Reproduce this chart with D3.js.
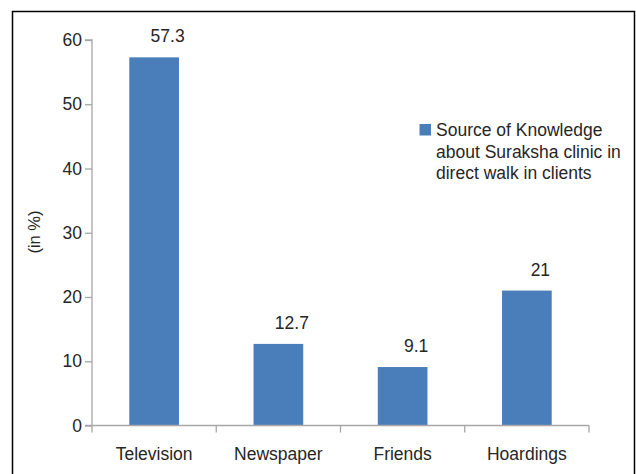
<!DOCTYPE html>
<html>
<head>
<meta charset="utf-8">
<script src="https://cdn.jsdelivr.net/npm/d3@7"></script>
<style>
html,body{margin:0;padding:0;background:#fff;}
svg{display:block;font-family:"Liberation Sans",Arial,sans-serif;}
</style>
</head>
<body>
<svg id="chart" width="636" height="474"></svg>
<script>
const categories = ["Television", "Newspaper", "Friends", "Hoardings"];
const values = [57.3, 12.7, 9.1, 21];
const valueLabels = ["57.3", "12.7", "9.1", "21"];
const yTicks = [0, 10, 20, 30, 40, 50, 60];
const seriesName = ["Source of Knowledge", "about Suraksha clinic in", "direct walk in clients"];
const yTitle = "(in %)";

(function () {
const svg = d3.select("#chart");
const mLeft = 92, mRight = 589, mTop = 40, mBottom = 425.5;
const barColor = "#4a7ebb";
const axisColor = "#a6a6a6";
const textColor = "#262626";
const fs = 17.5;

// outer frame
svg.append("rect").attr("x", 12.5).attr("y", 11.5).attr("width", 622).attr("height", 480)
  .attr("fill", "none").attr("stroke", "#000").attr("stroke-width", 1.5);

const x = d3.scaleBand().domain(categories).range([mLeft, mRight]).paddingInner(0.6).paddingOuter(0.3);
const y = d3.scaleLinear().domain([0, 60]).range([mBottom, mTop]);

// bars
svg.selectAll("rect.bar").data(values).join("rect").attr("class", "bar")
  .attr("x", (d, i) => x(categories[i]))
  .attr("y", d => y(d))
  .attr("width", x.bandwidth())
  .attr("height", d => y(0) - y(d))
  .attr("fill", barColor);

// value labels
svg.selectAll("text.val").data(values).join("text").attr("class", "val")
  .attr("x", (d, i) => x(categories[i]) + x.bandwidth() / 2 + 13.5)
  .attr("y", d => y(d) - 15)
  .attr("text-anchor", "middle")
  .attr("font-size", fs)
  .attr("fill", textColor)
  .text((d, i) => valueLabels[i]);

// y axis
const yAxis = d3.axisLeft(y).tickValues(yTicks).tickSize(7).tickPadding(3);
const gy = svg.append("g").attr("transform", `translate(${mLeft},0)`).call(yAxis);
gy.select(".domain").attr("stroke", axisColor).attr("stroke-width", 1.3).attr("d", `M-7,${mBottom}H0V${mTop}H-7`);
gy.selectAll(".tick line").attr("stroke", axisColor).attr("stroke-width", 1.3);
gy.selectAll(".tick text").attr("font-size", fs).attr("fill", textColor)
  .attr("font-family", "Liberation Sans, Arial, sans-serif");

// x axis
const xAxis = d3.axisBottom(x).tickSize(0).tickPadding(22);
const gx = svg.append("g").attr("transform", `translate(0,${mBottom})`).call(xAxis);
gx.select(".domain").attr("stroke", axisColor).attr("stroke-width", 1.3).attr("d", `M${mLeft},0H${mRight}`);
gx.selectAll(".tick text").attr("font-size", fs).attr("fill", textColor)
  .attr("font-family", "Liberation Sans, Arial, sans-serif");
// category separators
const sepPos = d3.range(categories.length + 1).map(i => mLeft + (mRight - mLeft) * i / categories.length);
gx.selectAll("line.sep").data(sepPos).join("line").attr("class", "sep")
  .attr("x1", d => d).attr("x2", d => d).attr("y1", 0).attr("y2", 7)
  .attr("stroke", axisColor).attr("stroke-width", 1.3);

// y title
svg.append("text").attr("transform", "translate(40,232) rotate(-90)")
  .attr("text-anchor", "middle").attr("font-size", fs - 1).attr("fill", textColor)
  .text(yTitle);

// legend
const lg = svg.append("g").attr("transform", "translate(419.5,124)");
lg.append("rect").attr("width", 11.5).attr("height", 11.5).attr("fill", barColor);
lg.selectAll("text").data(seriesName).join("text")
  .attr("x", 16.5).attr("y", (d, i) => 12 + i * 21.5)
  .attr("font-size", fs).attr("fill", textColor).text(d => d);
})();
</script>
</body>
</html>
